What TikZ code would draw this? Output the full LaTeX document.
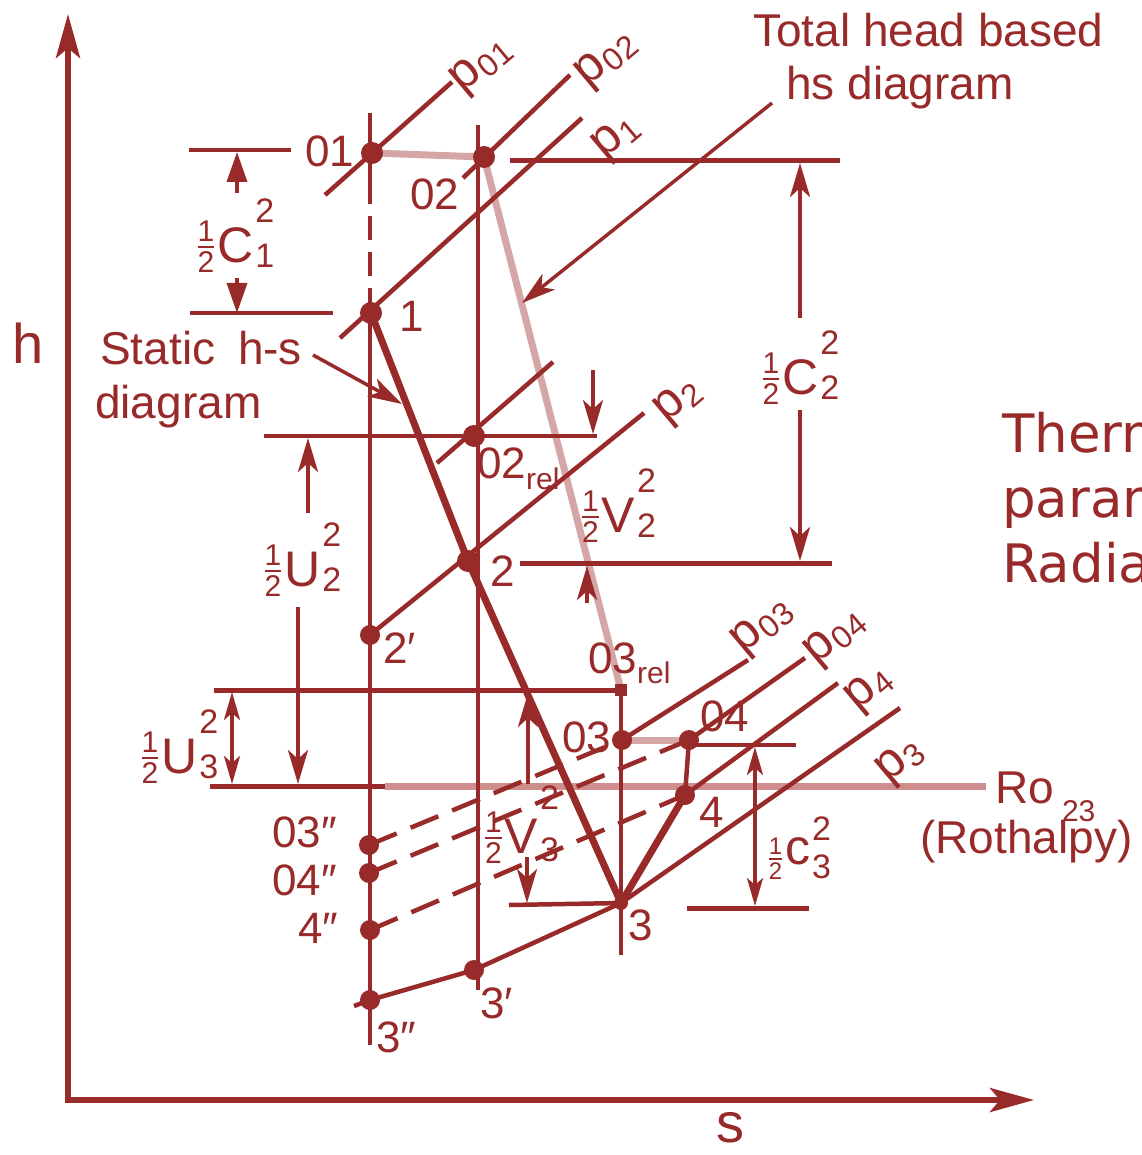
\documentclass[tikz,border=0pt]{standalone}
\usepackage{fontspec}
\setmainfont{Liberation Sans}
\newfontfamily\thfont{DejaVu Sans}
\usetikzlibrary{arrows.meta}
\definecolor{dred}{RGB}{152,42,42}
\definecolor{lpink}{RGB}{214,166,166}
\definecolor{ropink}{RGB}{206,142,142}
\newcommand\Half[3]{\raisebox{#2}{\fontsize{#1}{#1}\selectfont\vbox{\hbox{1}\kern#3\hrule height 2pt\kern#3\hbox{2}}}}
\newcommand\KE[5]{\Half{30}{-10pt}{4pt}\kern3pt{\fontsize{50}{54}\selectfont #1}\kern2pt\rlap{\raisebox{#4}{\fontsize{34}{34}\selectfont #2}}\raisebox{#5}{\fontsize{34}{34}\selectfont #3}}
\newcommand\KEs[5]{\Half{24}{-15pt}{3pt}\kern3pt{\fontsize{50}{54}\selectfont #1}\kern2pt\rlap{\raisebox{#4}{\fontsize{34}{34}\selectfont #2}}\raisebox{#5}{\fontsize{34}{34}\selectfont #3}}
\newcommand\Sub[2]{#1\raisebox{#2}{\fontsize{30}{30}\selectfont rel}}
\newcommand\Pp[1]{{\fontsize{50}{54}\selectfont p}\kern1pt\raisebox{-6pt}{\fontsize{32}{32}\selectfont #1}}
\tikzset{
  base/.style={draw=dred, line width=4.5pt},
  thin/.style={draw=dred, line width=3.5pt},
  thick/.style={draw=dred, line width=7pt, line cap=round},
  pinkline/.style={draw=lpink, line width=7pt},
  roline/.style={draw=ropink, line width=7pt},
  dashline/.style={draw=dred, line width=4.5pt, dash pattern=on 30pt off 15pt},
  arr/.style={draw=dred, line width=4pt, -{Stealth[length=34pt,width=20pt,inset=9pt]}},
  darr/.style={draw=dred, line width=3.5pt, {Stealth[length=28pt,width=16pt,inset=7pt]}-{Stealth[length=28pt,width=16pt,inset=7pt]}},
  tri/.style={draw=dred, line width=3.5pt, -{Triangle[length=30pt,width=20pt]}},
  axis/.style={draw=dred, line width=6pt, {Stealth[length=44pt,width=24pt,inset=10pt]}-{Stealth[length=44pt,width=24pt,inset=10pt]}},
  dot/.style={circle, fill=dred, inner sep=0pt, minimum size=22pt},
  lab/.style={text=dred, inner sep=0pt, font=\fontsize{44}{48}\selectfont},
  big/.style={text=dred, inner sep=0pt, font=\fontsize{46}{50}\selectfont},
}
\begin{document}
\begin{tikzpicture}[x=1pt,y=-1pt]
\useasboundingbox[fill=white] (0,0) rectangle (1141,1155);
% key points
\coordinate (c01) at (372,153);
\coordinate (c02) at (484,157);
\coordinate (c1) at (371,313);
\coordinate (c02r) at (474,436);
\coordinate (c2) at (468,561);
\coordinate (c2p) at (370,635);
\coordinate (c03r) at (621,690);
\coordinate (c03) at (622,740);
\coordinate (c04) at (689,740);
\coordinate (c4) at (685,795);
\coordinate (c3) at (621,903);
\coordinate (c3p) at (474,970);
\coordinate (c3pp) at (370,1000);
\coordinate (c03pp) at (369,845);
\coordinate (c04pp) at (369,873);
\coordinate (c4pp) at (370,930);
% axes
\coordinate (origin) at (68,1100);
\coordinate (hend) at (68,14);
\coordinate (send) at (1034,1100);
\draw[axis] (hend) -- (origin) -- (send);
% pink (total head) lines
\draw[pinkline] (c01) -- (c02);
\draw[pinkline] (c02) -- (c03r);
\draw[pinkline] (c03) -- (c04);
\coordinate (roA) at (210,786);
\coordinate (roB) at (385,786);
\coordinate (roC) at (986,786);
\draw[roline] (roB) -- (roC);
\draw[base, line width=5pt] (roA) -- (roB);
% vertical lines
\coordinate (v1top) at (370,113);
\coordinate (v1a) at (370,180);
\coordinate (v1b) at (370,305);
\coordinate (v1bot) at (370,1045);
\draw[base] (v1top) -- (v1a);
\draw[dashline, dash pattern=on 24pt off 12pt] (v1a) -- (v1b);
\draw[base] (v1b) -- (v1bot);
\coordinate (v2top) at (478,125);
\coordinate (v2bot) at (478,990);
\draw[base] (v2top) -- (v2bot);
\coordinate (v3bot) at (621,955);
\draw[base] (c03r) -- (v3bot);
% horizontal lines
\coordinate (h01a) at (189,150); \coordinate (h01b) at (291,150);
\draw[thin] (h01a) -- (h01b);
\coordinate (h1a) at (190,313); \coordinate (h1b) at (333,313);
\draw[thin] (h1a) -- (h1b);
\coordinate (h02a) at (510,161); \coordinate (h02b) at (840,161);
\draw[base, line width=5pt] (h02a) -- (h02b);
\coordinate (h02ra) at (264,436); \coordinate (h02rb) at (597,436);
\draw[base] (h02ra) -- (h02rb);
\coordinate (h2a) at (520,563); \coordinate (h2b) at (832,563);
\draw[base, line width=5pt] (h2a) -- (h2b);
\coordinate (h03ra) at (214,690);
\draw[base, line width=5pt] (h03ra) -- (c03r);
\coordinate (h04a) at (688,745); \coordinate (h04b) at (796,745);
\draw[base] (h04a) -- (h04b);
\coordinate (h3a) at (509,905);
\draw[base] (h3a) -- (c3);
\coordinate (h3ba) at (687,908); \coordinate (h3bb) at (809,908);
\draw[base, line width=5pt] (h3ba) -- (h3bb);
% isobars
\coordinate (p01a) at (325,195); \coordinate (p01b) at (452,82);
\draw[base] (p01a) -- (p01b);
\coordinate (p02a) at (463,178); \coordinate (p02b) at (570,75);
\draw[base] (p02a) -- (p02b);
\coordinate (p1a) at (340,338); \coordinate (p1b) at (582,118);
\draw[base] (p1a) -- (p1b);
\coordinate (p02ra) at (437,463); \coordinate (p02rb) at (553,362);
\draw[base] (p02ra) -- (p02rb);
\coordinate (p2b) at (644,413);
\draw[base] (c2p) -- (p2b);
\coordinate (p03b) at (748,660);
\draw[dashline] (c03pp) -- (c03);
\draw[base] (c03) -- (p03b);
\coordinate (p04b) at (805,658);
\draw[dashline] (c04pp) -- (c04);
\draw[base] (c04) -- (p04b);
\coordinate (p4b) at (838,683);
\draw[dashline] (c4pp) -- (c4);
\draw[base] (c4) -- (p4b);
\coordinate (p3a) at (354,1006);
\coordinate (p3b) at (900,708);
\draw[base, line join=round] (p3a) -- (c3pp) -- (c3p) -- (c3) -- (p3b);
% process lines
\draw[thick, line join=round] (c1) -- (c2) -- (c3);
\draw[thick] (c3) -- (c4);
\draw[base] (c4) -- (c04);
% dots
\node[dot] (d01) at (c01) {};
\node[dot] (d02) at (c02) {};
\node[dot] (d1) at (c1) {};
\node[dot] (d02r) at (c02r) {};
\node[dot] (d2) at (c2) {};
\node[dot, minimum size=20pt] (d2p) at (c2p) {};
\node[fill=dred, inner sep=0pt, minimum size=12pt] (d03r) at (c03r) {};
\node[dot, minimum size=20pt] (d03) at (c03) {};
\node[dot, minimum size=20pt] (d04) at (c04) {};
\node[dot, minimum size=20pt] (d4) at (c4) {};
\node[dot, minimum size=14pt] (d3) at (c3) {};
\node[dot, minimum size=20pt] (d3p) at (c3p) {};
\node[dot, minimum size=20pt] (d3pp) at (c3pp) {};
\node[dot, minimum size=20pt] (d03pp) at (c03pp) {};
\node[dot, minimum size=20pt] (d04pp) at (c04pp) {};
\node[dot, minimum size=20pt] (d4pp) at (c4pp) {};
% dimension arrows
\coordinate (aC1a) at (237,193); \coordinate (aC1b) at (237,152);
\draw[tri] (aC1a) -- (aC1b);
\coordinate (aC1c) at (237,278); \coordinate (aC1d) at (237,313);
\draw[tri] (aC1c) -- (aC1d);
\coordinate (aC2a) at (800,318); \coordinate (aC2b) at (800,163);
\draw[arr] (aC2a) -- (aC2b);
\coordinate (aC2c) at (800,410); \coordinate (aC2d) at (800,561);
\draw[arr] (aC2c) -- (aC2d);
\coordinate (aU2a) at (308,513); \coordinate (aU2b) at (308,438);
\draw[arr] (aU2a) -- (aU2b);
\coordinate (aU2c) at (298,607); \coordinate (aU2d) at (298,784);
\draw[arr] (aU2c) -- (aU2d);
\coordinate (aV2a) at (593,370); \coordinate (aV2b) at (593,434);
\draw[arr, line width=3.5pt] (aV2a) -- (aV2b);
\coordinate (aV2c) at (587,603); \coordinate (aV2d) at (587,566);
\draw[arr, line width=3.5pt] (aV2c) -- (aV2d);
\coordinate (aU3a) at (232,692); \coordinate (aU3b) at (232,784);
\draw[darr] (aU3a) -- (aU3b);
\coordinate (aV3a) at (528,784); \coordinate (aV3b) at (528,693);
\draw[arr] (aV3a) -- (aV3b);
\coordinate (aV3c) at (527,857); \coordinate (aV3d) at (527,903);
\draw[arr, line width=3.5pt] (aV3c) -- (aV3d);
\coordinate (ac3a) at (755,747); \coordinate (ac3b) at (755,906);
\draw[darr] (ac3a) -- (ac3b);
% pointer arrows
\coordinate (sta) at (313,355); \coordinate (stb) at (402,404);
\draw[arr, line width=3.5pt] (sta) -- (stb);
\coordinate (tha) at (772,103); \coordinate (thb) at (522,303);
\draw[arr, line width=3.5pt] (tha) -- (thb);
% axis labels
\node[text=dred, inner sep=0pt, font=\fontsize{56}{60}\selectfont] (lh) at (28,343) {h};
\node[text=dred, inner sep=0pt, font=\fontsize{56}{60}\selectfont] (ls) at (730,1128) {s};
% text labels
\node[big, anchor=base west] (tTot) at (753,47) {Total head based};
\node[big, anchor=base west] (tHs) at (786,100) {hs diagram};
\node[big, anchor=base west] (tSt) at (100,364) {Static\hspace{10pt} h-s};
\node[big, anchor=base west] (tDi) at (95,418) {diagram};
\node[lab, anchor=base west] (l01) at (305,167) {01};
\node[lab, anchor=base west] (l02) at (410,210) {02};
\node[lab, anchor=base west] (l1) at (399,331) {1};
\node[lab, anchor=base west] (l02r) at (477,478) {\Sub{02}{-11pt}};
\node[lab, anchor=base west] (l2) at (490,586) {2};
\node[lab, anchor=base west] (l2p) at (383,663) {2′};
\node[lab, anchor=base west] (l03r) at (588,673) {\Sub{03}{-10pt}};
\node[lab, anchor=base west] (l03) at (562,752) {03};
\node[lab, anchor=base west] (l04) at (700,731) {04};
\node[lab, anchor=base west] (l4) at (699,827) {4};
\node[lab, anchor=base west] (l3) at (628,940) {3};
\node[lab, anchor=base west] (l3p) at (480,1018) {3′};
\node[lab, anchor=base west] (l3pp) at (376,1052) {3″};
\node[lab, anchor=base west] (l03pp) at (272,847) {03″};
\node[lab, anchor=base west] (l04pp) at (272,895) {04″};
\node[lab, anchor=base west] (l4pp) at (298,943) {4″};
\node[big, anchor=base west] (lRo) at (995,803) {Ro\kern8pt\raisebox{-18pt}{\fontsize{30}{30}\selectfont 23}};
\node[big, anchor=base west] (lRoth) at (920,853) {(Rothalpy)};
% kinetic energy labels
\node[lab] (kC1) at (236,236) {\KE{C}{2}{1}{40pt}{-5pt}};
\node[lab] (kC2) at (801,368) {\KE{C}{2}{2}{40pt}{-5pt}};
\node[lab] (kU2) at (303,560) {\KE{U}{2}{2}{40pt}{-5pt}};
\node[lab] (kV2) at (619,506) {\KE{V}{2}{2}{40pt}{-5pt}};
\node[lab] (kU3) at (180,747) {\KE{U}{2}{3}{40pt}{-5pt}};
\node[lab] (kV3) at (522,825) {\KE{V}{2}{3}{44pt}{-8pt}};
\node[lab] (kc3) at (800,848) {\KEs{c}{2}{3}{24pt}{-14pt}};
% isobar labels
\node[lab, rotate=40] (lp01) at (482,66) {\Pp{01}};
\node[lab, rotate=40] (lp02) at (607,60) {\Pp{02}};
\node[lab, rotate=40] (lp1) at (617,138) {\Pp{1}};
\node[lab, rotate=40] (lp2) at (679,402) {\Pp{2}};
\node[lab, rotate=40] (lp03) at (763,627) {\Pp{03}};
\node[lab, rotate=40] (lp04) at (836,638) {\Pp{04}};
\node[lab, rotate=40] (lp4) at (870,690) {\Pp{4}};
\node[lab, rotate=40] (lp3) at (901,762) {\Pp{3}};
% cut-off text at right edge
\begin{scope}
\clip (0,0) rectangle (1141,1155);
\node[text=dred, inner sep=0pt, anchor=base west, font=\thfont\fontsize{53}{58}\selectfont] (tx1) at (1002,452) {Therm};
\node[text=dred, inner sep=0pt, anchor=base west, font=\thfont\fontsize{53}{58}\selectfont] (tx2) at (1002,517) {param};
\node[text=dred, inner sep=0pt, anchor=base west, font=\thfont\fontsize{53}{58}\selectfont] (tx3) at (1002,582) {Radial};
\end{scope}
\end{tikzpicture}
\end{document}
